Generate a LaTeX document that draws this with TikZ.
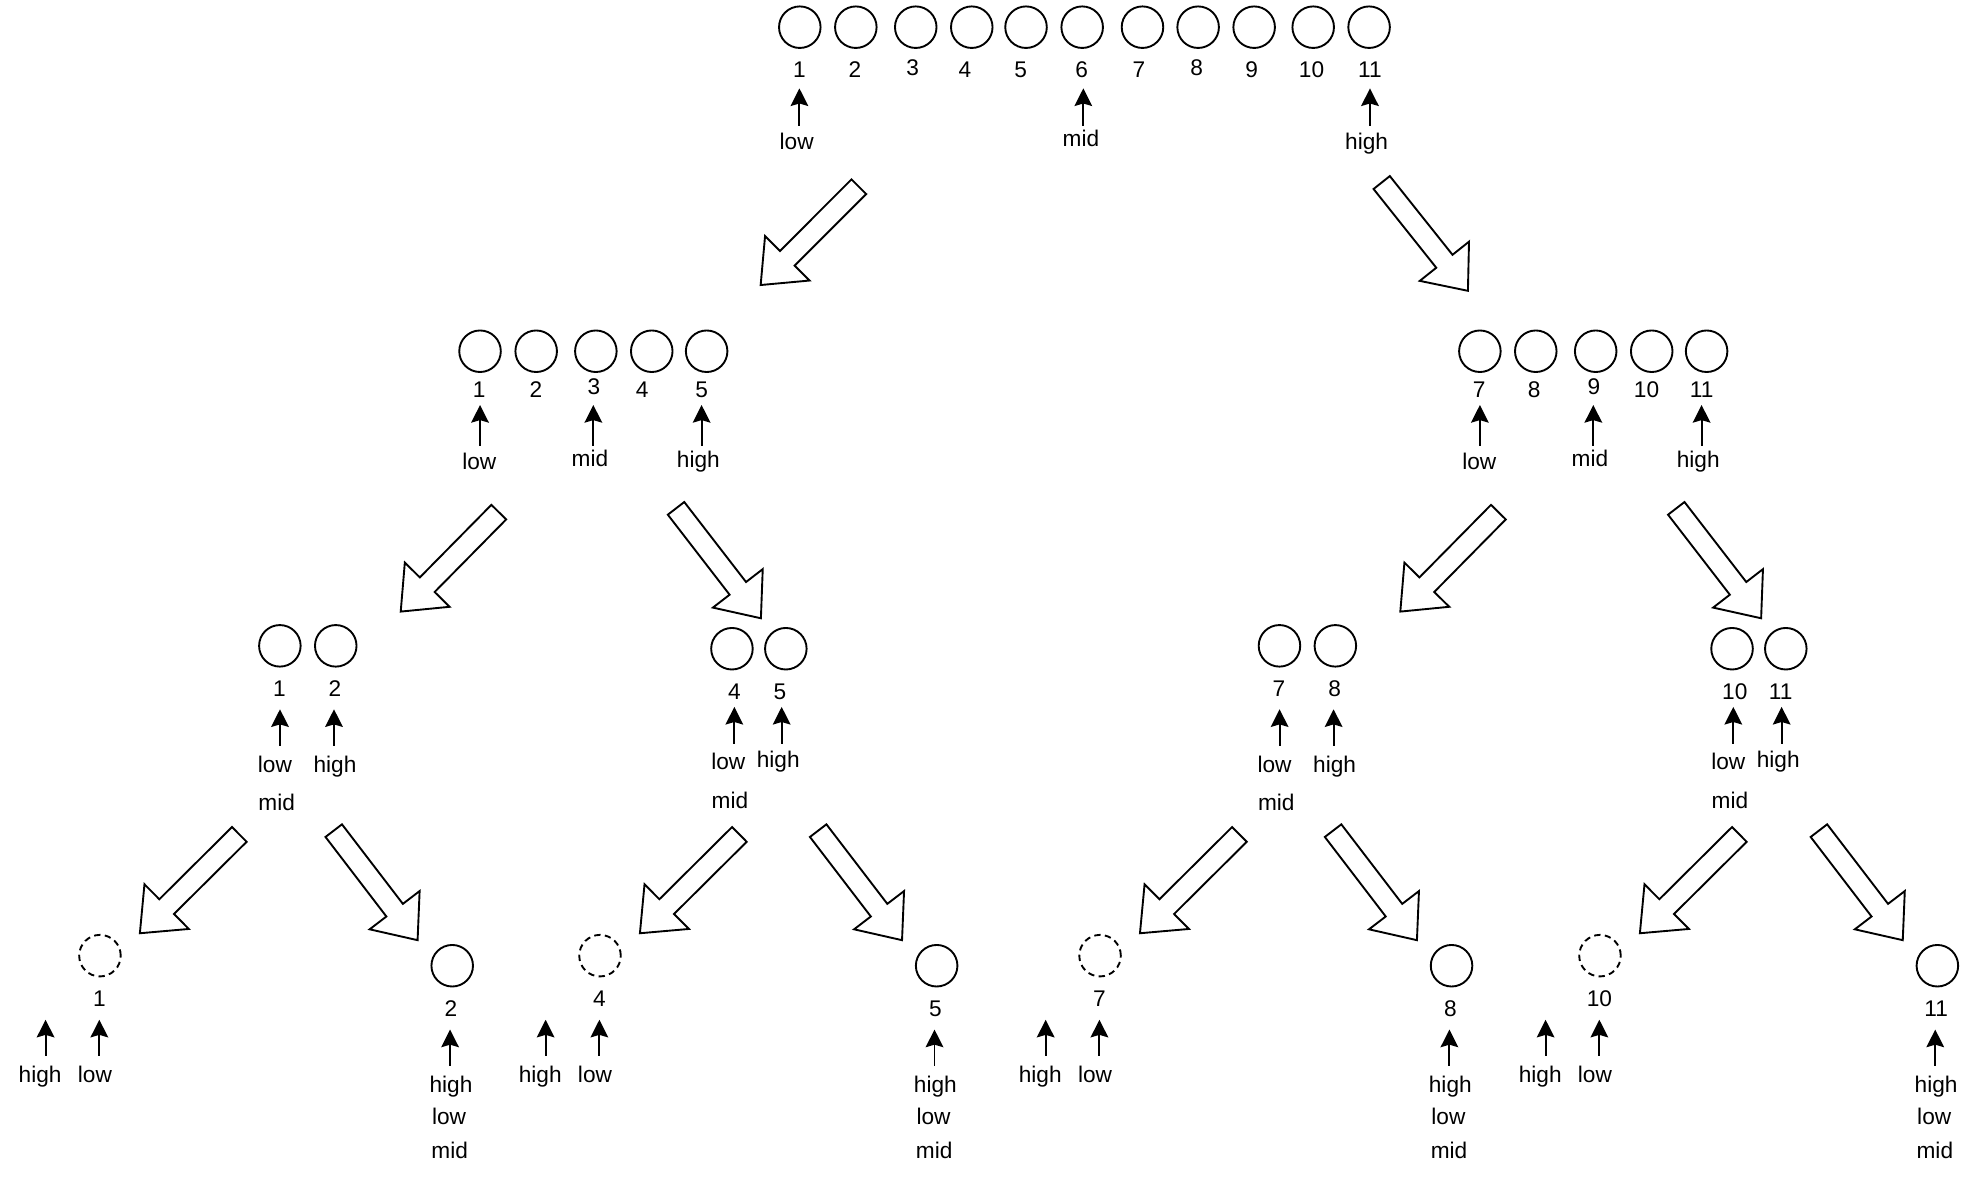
\documentclass[tikz,border=0pt]{standalone}
\usepackage{fontspec}
\setmainfont{Liberation Sans}
\usetikzlibrary{calc,arrows.meta}
\tikzset{
  elem/.style={circle, draw, line width=1.5pt, minimum size=33pt, inner sep=0pt},
  ghost/.style={elem, dash pattern=on 5pt off 3.5pt},
  lbl/.style={anchor=base, inner sep=0pt, font=\fontsize{18}{21.6}\selectfont},
  ptr/.style={line width=1.5pt, -{Stealth[length=14pt,width=14pt,inset=2pt]}},
  bigarr/.style={draw, line width=1.5pt, fill=white, line join=miter},
}
% small pointer arrow: name, x, y-bottom, y-top
\newcommand\ptrup[4]{%
  \coordinate (#1s) at (#2,#3);
  \coordinate (#1e) at (#2,#4);
  \draw[ptr] (#1s) -- (#1e);}
% hollow block arrow: name, tail, tip
\newcommand\hollowarrow[3]{%
  \coordinate (#1t) at (#2);
  \coordinate (#1p) at (#3);
  \coordinate (#1b) at ($(#1p)!30pt!(#1t)$);
  \draw[bigarr] ($(#1t)!8.25pt!90:(#1p)$) -- ($(#1b)!8.25pt!90:(#1p)$)
     -- ($(#1b)!25pt!90:(#1p)$) -- (#1p) -- ($(#1b)!25pt!-90:(#1p)$)
     -- ($(#1b)!8.25pt!-90:(#1p)$) -- ($(#1t)!8.25pt!-90:(#1p)$) -- cycle;}
\begin{document}
\begin{tikzpicture}[x=1pt,y=-1pt]
\useasboundingbox (0,0) rectangle (1568,936);

% ---------- level 1 ----------
\foreach \i/\x in {1/635.3,2/679.8,3/727.4,4/771.9,5/815,6/859.6,7/907.5,8/951.7,9/996.2,10/1043.1,11/1087.5}
  \node[elem] (t\i) at (\x,21.6) {};
\foreach \i/\x/\y in {1/634.9/61.4,2/679.1/61.4,3/725/59.6,4/766.5/61.4,5/810.8/61.4,6/859.1/61.4,7/904.7/61.4,8/950.5/59.6,9/994.2/61.4,10/1041.8/61.4,11/1088.2/61.4}
  \node[lbl] (tn\i) at (\x,\y) {\i};
\ptrup{ta1}{635}{100}{70.2}
\ptrup{ta2}{860.5}{100}{70.2}
\ptrup{ta3}{1088.2}{100}{70.2}
\node[lbl] (tlow) at (632.8,119.1) {low};
\node[lbl] (tmid) at (858.6,116.5) {mid};
\node[lbl] (thigh) at (1085.5,118.6) {high};

\hollowarrow{A1}{682.2,148.3}{604.2,226.4}
\hollowarrow{A2}{1097.5,145}{1166,231}

% ---------- level 2 left ----------
\foreach \i/\x in {1/381.3,2/425.9,3/473.3,4/517.7,5/561.3}
  \node[elem] (l\i) at (\x,279) {};
\foreach \i/\x/\y in {1/380.7/315.6,2/425.7/315.6,3/471.8/313.7,4/510/315.6,5/557.3/315.6}
  \node[lbl] (ln\i) at (\x,\y) {\i};
\ptrup{la1}{381.3}{354.2}{321.7}
\ptrup{la2}{471.3}{354.2}{321.7}
\ptrup{la3}{557.3}{354.2}{321.7}
\node[lbl] (llow) at (380.7,373.3) {low};
\node[lbl] (lmid) at (468.6,370.7) {mid};
\node[lbl] (lhigh) at (554.7,371.5) {high};

% ---------- level 2 right ----------
\foreach \i/\x in {7/1175.5,8/1219.9,9/1267.5,10/1312,11/1355.6}
  \node[elem] (r\i) at (\x,279) {};
\foreach \i/\x/\y in {7/1175/315.6,8/1218.7/315.6,9/1266.1/313.7,10/1307.9/315.6,11/1351.6/315.6}
  \node[lbl] (rn\i) at (\x,\y) {\i};
\ptrup{ra1}{1175.5}{354.2}{321.7}
\ptrup{ra2}{1265.6}{354.2}{321.7}
\ptrup{ra3}{1351.6}{354.2}{321.7}
\node[lbl] (rlow) at (1175,373.3) {low};
\node[lbl] (rmid) at (1262.9,370.7) {mid};
\node[lbl] (rhigh) at (1348.9,371.5) {high};

\hollowarrow{B1}{396.2,406.8}{318.3,485.8}
\hollowarrow{B2}{537,403.8}{604.4,491.1}
\hollowarrow{B3}{1190.2,406.8}{1112.3,485.8}
\hollowarrow{B4}{1331.5,403.8}{1398.9,491.1}

% ---------- level 3 ----------
% group A (1,2) and C (7,8)
\foreach \g/\a/\b/\dx in {A/1/2/0, C/7/8/794}{
  \node[elem] (\g c1) at (222.3+\dx,513) {};
  \node[elem] (\g c2) at (266.7+\dx,513) {};
  \node[lbl] (\g n1) at (221.9+\dx,553.4) {\a};
  \node[lbl] (\g n2) at (266.1+\dx,553.4) {\b};
  \coordinate (\g s1) at (222.4+\dx,592.5); \coordinate (\g e1) at (222.4+\dx,563.4);
  \coordinate (\g s2) at (265.3+\dx,592.5); \coordinate (\g e2) at (265.3+\dx,563.4);
  \draw[ptr] (\g s1) -- (\g e1);
  \draw[ptr] (\g s2) -- (\g e2);
  \node[lbl] (\g low) at (218.4+\dx,613.7) {low};
  \node[lbl] (\g high) at (266.1+\dx,613.7) {high};
  \node[lbl] (\g mid) at (219.8+\dx,643.5) {mid};
}
% group B (4,5) and D (10,11)
\foreach \g/\a/\b/\c/\d/\na/\nb/\pa/\pb/\lo/\hi/\mi in
  {B/4/5/581.4/624.2/583.3/619.5/583.3/620.9/578.5/618.2/579.8,
   D/10/11/1375.8/1418.5/1378/1414.4/1376.8/1415.2/1372.8/1412.5/1374.1}{
  \node[elem] (\g c1) at (\c,515.3) {};
  \node[elem] (\g c2) at (\d,515.3) {};
  \node[lbl] (\g n1) at (\na,555.4) {\a};
  \node[lbl] (\g n2) at (\nb,555.4) {\b};
  \coordinate (\g s1) at (\pa,590.7); \coordinate (\g e1) at (\pa,561.5);
  \coordinate (\g s2) at (\pb,590.7); \coordinate (\g e2) at (\pb,561.5);
  \draw[ptr] (\g s1) -- (\g e1);
  \draw[ptr] (\g s2) -- (\g e2);
  \node[lbl] (\g low) at (\lo,611.3) {low};
  \node[lbl] (\g high) at (\hi,609.6) {high};
  \node[lbl] (\g mid) at (\mi,642) {mid};
}

% ---------- arrows level 3 -> 4 ----------
\hollowarrow{C1}{190.1,662.8}{111.1,741.3}
\hollowarrow{C2}{265.1,659.8}{331.7,746.8}
\hollowarrow{C3}{587.3,662.8}{508.3,741.3}
\hollowarrow{C4}{649.9,659.8}{716.5,746.8}
\hollowarrow{C5}{984.5,662.8}{905.5,741.3}
\hollowarrow{C6}{1058.9,659.8}{1125.5,746.8}
\hollowarrow{C7}{1381.6,662.8}{1302.6,741.3}
\hollowarrow{C8}{1444.8,659.8}{1511.4,746.8}

% ---------- level 4 ----------
\foreach \n/\cx in {1/79.4,4/476.6,7/873.8,10/1270.9}{
  \node[ghost] (g\n) at (\cx,759.1) {};
  \node[lbl] (gn\n) at (\cx-0.5,799.6) {\n};
  \coordinate (ghs\n) at (\cx-43.2,838.5); \coordinate (ghe\n) at (\cx-43.2,810);
  \coordinate (gls\n) at (\cx-0.5,838.5); \coordinate (gle\n) at (\cx-0.5,810);
  \draw[ptr] (ghs\n) -- (ghe\n);
  \draw[ptr] (gls\n) -- (gle\n);
  \node[lbl] (gh\n) at (\cx-47.5,860) {high};
  \node[lbl] (gl\n) at (\cx-4,860) {low};
}
\foreach \n/\cx in {2/359.2,5/744,8/1153,11/1538.9}{
  \node[elem] (f\n) at (\cx,767.1) {};
  \node[lbl] (fn\n) at (\cx-1,807.5) {\n};
  \coordinate (fs\n) at (\cx-1.7,846.5); \coordinate (fe\n) at (\cx-1.7,817.8);
  \draw[ptr] (fs\n) -- (fe\n);
  \node[lbl] (fh\n) at (\cx-1,868) {high};
  \node[lbl] (fl\n) at (\cx-2.5,893) {low};
  \node[lbl] (fm\n) at (\cx-2,920) {mid};
}
\end{tikzpicture}
\end{document}
